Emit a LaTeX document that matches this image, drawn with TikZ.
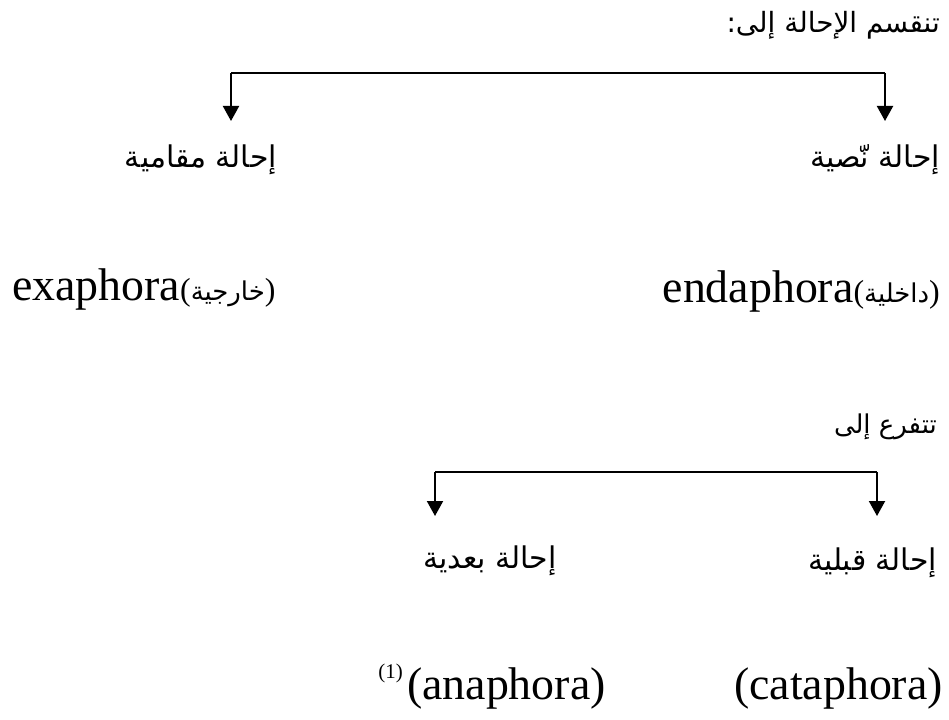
\documentclass[tikz,border=0pt]{standalone}
\usepackage{fontspec}
\setmainfont{Liberation Serif}
\newfontfamily\arabicfont[Script=Arabic]{DejaVu Sans}
\TeXXeTstate=1
\usetikzlibrary{arrows.meta}
\begin{document}
\begin{tikzpicture}[x=1bp,y=-1bp,
  ar/.style={font=\arabicfont\fontsize{30}{34}\selectfont, inner sep=0pt},
  lat/.style={font=\fontsize{46}{52}\selectfont, inner sep=0pt},
  note/.style={font=\fontsize{21}{24}\selectfont, inner sep=0pt},
  bar/.style={line width=2bp},
  conn/.style={line width=2bp, -{Triangle[length=15bp,width=16bp]}}]
\newcommand{\smallar}[1]{\fontsize{32}{34}\selectfont(\arabicfont\fontsize{26}{30}\selectfont\beginR #1\endR\fontsize{32}{34}\selectfont\normalfont)}
\useasboundingbox (0,0) rectangle (949,720);
% level 1
\node[ar, font=\arabicfont\fontsize{28}{32}\selectfont, anchor=base east] (title) at (940,33) {\beginR تنقسم الإحالة إلى:\endR};
\node[ar, anchor=base east] (nass) at (940,168) {\beginR إحالة نّصية\endR};
\node[ar, anchor=base east] (maqam) at (277,168) {\beginR إحالة مقامية\endR};
\node[lat, anchor=base west] (exa) at (12,300) {exaphora\smallar{خارجية}};
\node[lat, anchor=base east] (enda) at (940,302) {endaphora\smallar{داخلية}};
\coordinate (tl) at (231,73);
\coordinate (tr) at (885,73);
\coordinate (tipL) at (231,121);
\coordinate (tipR) at (885,121);
\draw[bar] (tl) -- (tr);
\draw[conn] (tl) -- (tipL);
\draw[conn] (tr) -- (tipR);
% level 2
\node[ar, font=\arabicfont\fontsize{26}{30}\selectfont, anchor=base east] (tafarra) at (937,433) {\beginR تتفرع إلى\endR};
\node[ar, anchor=base east] (baadi) at (557,568) {\beginR إحالة بعدية\endR};
\node[ar, anchor=base east] (qabli) at (937,570) {\beginR إحالة قبلية\endR};
\node[lat, anchor=base west] (ana) at (407,699) {(anaphora)};
\node[note, anchor=base east] (fn) at (403,678) {(1)};
\node[lat, anchor=base west] (cata) at (734,699) {(cataphora)};
\coordinate (bl) at (435,472);
\coordinate (br) at (877,472);
\coordinate (tipBL) at (435,516);
\coordinate (tipBR) at (877,516);
\draw[bar] (bl) -- (br);
\draw[conn] (bl) -- (tipBL);
\draw[conn] (br) -- (tipBR);
\end{tikzpicture}
\end{document}
